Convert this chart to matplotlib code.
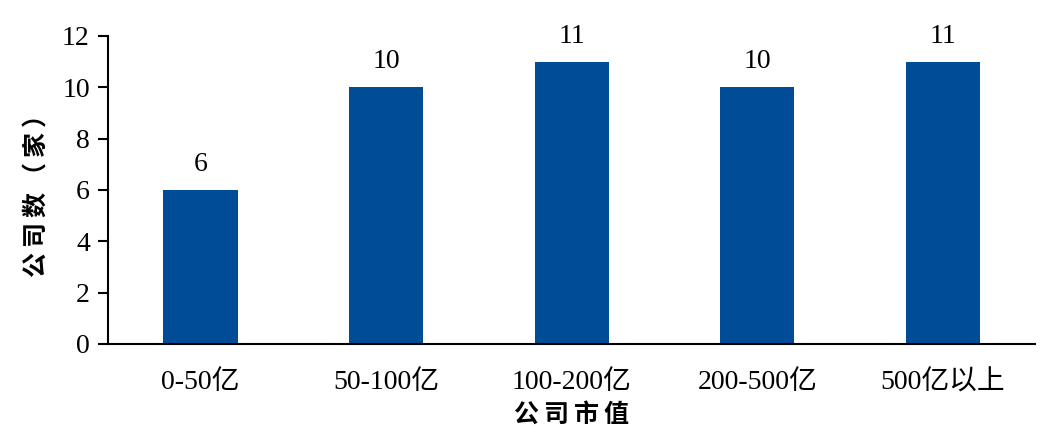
import matplotlib
matplotlib.use("Agg")
import matplotlib.pyplot as plt

categories = ["0-50亿", "50-100亿", "100-200亿", "200-500亿", "500亿以上"]
counts = [6, 10, 11, 10, 11]

serif = ["Liberation Serif", "Noto Sans CJK SC"]
cjk = ["Noto Sans CJK SC", "DejaVu Sans"]
bar_color = "#004C97"

fig = plt.figure(figsize=(10.47, 4.38), dpi=100)
ax = fig.add_axes([0.103, 0.215, 0.886, 0.703])

x = range(len(categories))
bars = ax.bar(x, counts, width=0.4, color=bar_color)

for xi, v in zip(x, counts):
    ax.text(xi, v + 0.5, str(v), ha="center", va="bottom",
            fontsize=20, family=serif)

ax.set_xlim(-0.5, len(categories) - 0.5)
ax.set_ylim(0, 12)
ax.set_yticks(range(0, 13, 2))
ax.set_xticks(list(x))
ax.set_xticklabels(categories, family=serif, fontsize=20)
for lab in ax.get_yticklabels():
    lab.set_family(serif)
    lab.set_fontsize(20)

ax.tick_params(axis="y", direction="out", length=7, width=1.5, pad=6)
ax.tick_params(axis="x", length=0, pad=19)

for s in ["top", "right"]:
    ax.spines[s].set_visible(False)
ax.spines["left"].set_linewidth(1.5)
ax.spines["bottom"].set_linewidth(1.5)

sp = "\u2009"
ax.set_ylabel(sp.join("公司数（家）"), family=cjk, fontsize=18,
              fontweight="bold", labelpad=9)
ax.set_xlabel(sp.join("公司市值"), family=cjk, fontsize=18,
              fontweight="bold", labelpad=5)

fig.savefig("out.png", dpi=100)
